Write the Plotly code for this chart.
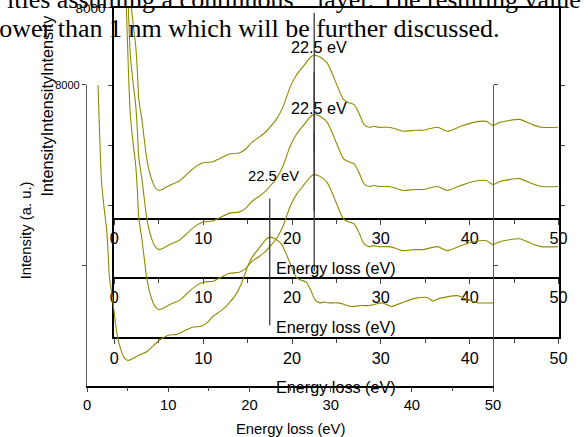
import plotly.graph_objects as go

# ---------------- data ----------------
energy_ev = [0.9, 1.1, 1.35, 1.57, 1.8, 2.1, 2.4, 2.6, 2.75, 3.1, 3.3, 3.65, 4.1, 4.6,
             5.05, 5.6, 6.2, 6.7, 7.4, 8.24, 9.0, 10.0, 11.1, 12.0, 12.97, 14.07, 14.8,
             15.5, 16.3, 17.0, 17.6, 18.24, 19.0, 19.8, 20.5, 21.2, 22.1, 22.5, 23.2,
             23.96, 24.5, 25.05, 25.8, 26.4, 27.0, 27.6, 28.1, 28.7, 29.2, 29.8, 30.8,
             31.4, 32.5, 33.8, 34.7, 35.7, 36.4, 37.5, 39.0, 40.4, 41.9, 42.6, 43.4,
             45.6, 47.0, 48.1, 50.0]
intensity = [10920, 9320, 8040, 6820, 5820, 5280, 4820, 4280, 3740, 3320, 3020, 2520,
             2160, 1940, 1880, 1920, 1980, 2020, 2080, 2220, 2340, 2440, 2460, 2540, 2620,
             2640, 2720, 2860, 2960, 3060, 3180, 3320, 3580, 3980, 4220, 4380, 4580, 4620,
             4580, 4460, 4260, 4020, 3720, 3660, 3620, 3420, 3220, 3160, 3180, 3160, 3160,
             3140, 3080, 3100, 3100, 3140, 3160, 3080, 3180, 3260, 3280, 3200, 3260, 3320,
             3220, 3160, 3160]
x_tick_vals = [0, 10, 20, 30, 40, 50]
y_tick_vals = [4000, 8000]
y_tick_text = ["", "8000"]
y_min = 1320
peak_ev = 22.5
peak_label = "22.5 eV"
peak_line_low, peak_line_high = 2660, 5480
peak_label_level = 5980
peak_label_ev = 23.0
x_title = "Energy loss (eV)"
y_title = "Intensity (a. u.)"
y_title_repeated = "IntensityIntensityIntensity"
text_line1a = "ities assuming a continuous"
text_line1b = "layer. The resulting value"
text_line2 = "lower than 1 nm which will be further discussed."

# ---------------- layout helpers ----------------
W, H = 588, 437
def fx(p):
    return p / W
def fy(p):
    return 1 - p / H

OLIVE = "#8c8c00"
SANS = "Liberation Sans, Arial, sans-serif"
SERIF = "Liberation Serif, Times New Roman, serif"
UNITS_PER_PX = 20

# stacked copies of the panel (same scale), plus a smaller copy underneath
panels = [
    dict(xa="x", ya="y", left=112, right=567, bottom=215, top=0, fs=16.2,
         ytop=y_min + 215 * UNITS_PER_PX, mirror_x=False, ylab=False, ycol="black", label=False),
    dict(xa="x2", ya="y2", left=112, right=567, bottom=275, top=0, fs=16.2,
         ytop=y_min + 275 * UNITS_PER_PX, mirror_x=False, ylab=False, ycol="black", label=True),
    dict(xa="x3", ya="y3", left=112, right=567, bottom=336, top=2, fs=16.2,
         ytop=8000, mirror_x=True, ylab=True, ycol="black", label=True),
    dict(xa="x4", ya="y4", left=84, right=500, bottom=385, top=80, fs=14.8,
         ytop=8000, mirror_x=False, ylab=True, ycol="#5a5a5a", label=True),
]

fig = go.Figure()
layout = dict(width=W, height=H, autosize=False,
              margin=dict(l=0, r=0, t=0, b=0),
              paper_bgcolor="white", plot_bgcolor="rgba(0,0,0,0)",
              showlegend=False, font=dict(family=SANS, color="black"))
shapes = []
annotations = []

for i, p in enumerate(panels):
    n = "" if i == 0 else str(i + 1)
    fig.add_trace(go.Scatter(x=energy_ev, y=intensity, mode="lines",
                             xaxis=p["xa"], yaxis=p["ya"],
                             line=dict(color=OLIVE, width=1.1, shape="spline", smoothing=0.6),
                             hoverinfo="skip"))
    layout["xaxis" + n] = dict(
        domain=[fx(p["left"]), fx(p["right"])], anchor=p["ya"], range=[0, 50],
        tickvals=x_tick_vals, ticks="outside", ticklen=5, tickwidth=1,
        minor=dict(dtick=5, tick0=0, ticks="outside", ticklen=4, tickwidth=1),
        showline=True, linecolor="black", linewidth=1.5,
        mirror=True if p["mirror_x"] else False,
        showgrid=False, zeroline=False,
        tickfont=dict(size=p["fs"], family=SANS, color="black"))
    layout["yaxis" + n] = dict(
        domain=[fy(p["bottom"]), fy(p["top"])], anchor=p["xa"],
        range=[y_min, p["ytop"]],
        tickvals=y_tick_vals, ticktext=y_tick_text if p["ylab"] else ["", ""],
        ticks="outside", ticklen=4, tickwidth=1,
        showline=True, linecolor=p["ycol"], linewidth=2 if i < 3 else 1.3,
        mirror="ticks", showgrid=False, zeroline=False,
        tickfont=dict(size=13.5 if i < 3 else 11, family=SANS, color="black"))
    # x-axis title
    annotations.append(dict(text=x_title, xref=p["xa"] + " domain", yref=p["ya"] + " domain",
                            x=0.5, y=0, yshift=-50 if i < 3 else -43, showarrow=False,
                            xanchor="center", yanchor="middle",
                            font=dict(size=p["fs"], family=SANS, color="black")))
    # 22.5 eV marker
    shapes.append(dict(type="line", xref=p["xa"], yref=p["ya"], x0=peak_ev, x1=peak_ev,
                       y0=peak_line_low, y1=peak_line_high,
                       line=dict(color="#3c3c3c", width=1.3)))
    if p["label"]:
        annotations.append(dict(text=peak_label, xref=p["xa"], yref=p["ya"],
                                x=peak_label_ev, y=peak_label_level, showarrow=False,
                                xanchor="center", yanchor="middle",
                                font=dict(size=p["fs"], family=SANS, color="black")))

# top axis of the smaller copy
layout["xaxis5"] = dict(
    domain=[fx(84), fx(500)], anchor="y4", overlaying="x4", side="top", range=[0, 50],
    tickvals=x_tick_vals, ticks="outside", ticklen=4, tickwidth=1,
    minor=dict(dtick=5, tick0=0, ticks="outside", ticklen=3, tickwidth=1),
    showline=True, linecolor="black", linewidth=1.5, showgrid=False, zeroline=False,
    tickfont=dict(size=14.8, family=SANS, color="black"))

# y titles
annotations.append(dict(text=y_title, xref="paper", yref="paper", x=fx(21), y=fy(228),
                        textangle=-90, showarrow=False, xanchor="center", yanchor="middle",
                        font=dict(size=14.8, family=SANS, color="black")))
annotations.append(dict(text=y_title_repeated, xref="paper", yref="paper", x=fx(43), y=fy(101),
                        textangle=-90, showarrow=False, xanchor="center", yanchor="middle",
                        font=dict(size=16.2, family=SANS, color="black")))

# surrounding page text
annotations.append(dict(text=text_line1a, xref="paper", yref="paper", x=fx(0), y=fy(-7),
                        showarrow=False, xanchor="left", yanchor="middle",
                        font=dict(size=26, family=SERIF, color="black")))
annotations.append(dict(text=text_line1b, xref="paper", yref="paper", x=fx(592), y=fy(-7),
                        showarrow=False, xanchor="right", yanchor="middle",
                        font=dict(size=26, family=SERIF, color="black")))
annotations.append(dict(text=text_line2, xref="paper", yref="paper", x=fx(-15), y=fy(23),
                        showarrow=False, xanchor="left", yanchor="middle",
                        font=dict(size=26, family=SERIF, color="black")))

layout["shapes"] = shapes
layout["annotations"] = annotations
fig.update_layout(**layout)
fig.write_html("out.html", config={"displayModeBar": False},
               post_script="document.body.style.margin='0';document.body.style.overflow='hidden';")
